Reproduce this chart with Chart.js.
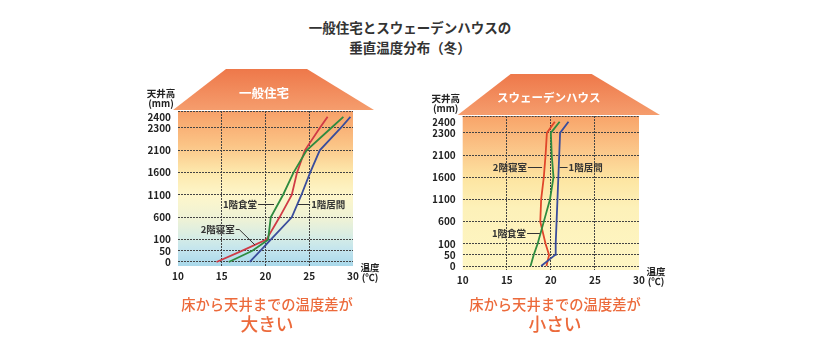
<!DOCTYPE html>
<html lang="ja">
<head>
<meta charset="utf-8">
<script src="https://cdn.jsdelivr.net/npm/chart.js@4/dist/chart.umd.min.js"></script>
<style>
  html, body { margin: 0; padding: 0; background: #fff; }
  #page { position: relative; width: 820px; height: 351px; overflow: hidden; font-family: "Noto Sans CJK JP", sans-serif; }
  .title { position: absolute; left: 0; width: 820px; text-align: center; color: #333; font-size: 13.5px; font-weight: bold; line-height: 1; }
  .box { position: absolute; }
  .cap { position: absolute; width: 260px; text-align: center; color: #ec6a3b; font-weight: 500; line-height: 1; }
</style>
</head>
<body>
<div id="page">
  <div class="title" style="top:21px">一般住宅とスウェーデンハウスの</div>
  <div class="title" style="top:41px">垂直温度分布（冬）</div>
  <div class="box" style="left:120px;top:55px"><canvas id="general" width="290" height="250"></canvas></div>
  <div class="box" style="left:410px;top:60px"><canvas id="sweden" width="290" height="250"></canvas></div>
  <div class="cap" style="left:137px;top:297px;font-size:14.3px">床から天井までの温度差が</div>
  <div class="cap" style="left:137px;top:315px;font-size:17.7px">大きい</div>
  <div class="cap" style="left:425px;top:297px;font-size:14.3px">床から天井までの温度差が</div>
  <div class="cap" style="left:425px;top:315px;font-size:17.7px">小さい</div>
</div>
<script>
// 天井高 (mm) と温度 (℃)
const heights = [0, 50, 100, 600, 1100, 1600, 2100, 2300, 2400];
const tempTicks = [10, 15, 20, 25, 30];

// 一般住宅
const generalLiving  = [18.2, 19.4, 20.6, 23.0, 24.1, 25.1, 26.2, 28.6, 29.7]; // 1階居間
const generalDining  = [15.8, 18.5, 20.3, 20.6, 22.0, 23.2, 24.7, 27.5, 28.9]; // 1階食堂
const generalBedroom = [14.4, 17.3, 20.1, 21.6, 23.0, 23.6, 24.5, 26.2, 27.1]; // 2階寝室

// スウェーデンハウス
const swedenLiving  = [18.9, 20.5, 20.55, 20.65, 20.75, 20.85, 20.95, 21.05, 22.0];
const swedenDining  = [17.7, 18.05, 18.5, 19.2, 19.9, 20.3, 20.1, 20.0, 21.0];
const swedenBedroom = [19.5, 19.8, 19.4, 18.8, 18.9, 19.2, 19.4, 19.55, 20.45];

// 縦軸は等間隔ではない (0-50-100 と 2300-2400 は半目盛り)
const levelSteps = [0, 0.5, 1, 2, 3, 4, 5, 6, 6.5];

class StepScale extends Chart.LinearScale {
  static id = 'step';
  toLevel(v) {
    let i = 1;
    while (i < heights.length - 1 && v > heights[i]) i++;
    const h0 = heights[i - 1], h1 = heights[i], p0 = levelSteps[i - 1], p1 = levelSteps[i];
    return p0 + (v - h0) * (p1 - p0) / (h1 - h0);
  }
  fromLevel(l) {
    let i = 1;
    while (i < levelSteps.length - 1 && l > levelSteps[i]) i++;
    const h0 = heights[i - 1], h1 = heights[i], p0 = levelSteps[i - 1], p1 = levelSteps[i];
    return h0 + (l - p0) * (h1 - h0) / (p1 - p0);
  }
  determineDataLimits() {
    super.determineDataLimits();
    this.min = this.toLevel(this.min);
    this.max = this.toLevel(this.max);
  }
  buildTicks() {
    return heights.map(v => ({ value: v }));
  }
  getPixelForValue(v) {
    return v === null ? NaN : this.getPixelForDecimal((this.toLevel(v) - this._startValue) / this._valueRange);
  }
  getValueForPixel(px) {
    return this.fromLevel(this._startValue + this.getDecimalForPixel(px) * this._valueRange);
  }
}
Chart.register(StepScale);

Chart.defaults.font.family = '"Noto Sans CJK JP", sans-serif';

const FONT = '"Noto Sans CJK JP", sans-serif';
const GRID = '#444';

// 家の形 (屋根と背景) と注記
function housePlugin(cfg) {
  return {
    id: 'house',
    beforeDraw(chart) {
      const { ctx, chartArea: a } = chart;
      ctx.save();
      const bg = ctx.createLinearGradient(0, a.top, 0, a.bottom);
      cfg.bg.forEach(([s, c]) => bg.addColorStop(s, c));
      ctx.fillStyle = bg;
      ctx.fillRect(a.left, a.top, a.right - a.left, a.bottom - a.top);

      const rTop = a.top - 42, rBot = a.top - 1;
      const roof = ctx.createLinearGradient(0, rTop, 0, rBot);
      roof.addColorStop(0, '#ee784a');
      roof.addColorStop(1, '#f59d6d');
      ctx.fillStyle = roof;
      ctx.beginPath();
      ctx.moveTo(a.left - 5, rBot);
      ctx.lineTo(a.left + 48, rTop);
      ctx.lineTo(a.left + 129, rTop);
      ctx.lineTo(a.right + 21, rBot);
      ctx.closePath();
      ctx.fill();

      ctx.fillStyle = '#fff';
      ctx.textAlign = 'center';
      ctx.textBaseline = 'middle';
      ctx.font = 'bold ' + cfg.titleSize + 'px ' + FONT;
      ctx.fillText(cfg.title, a.left + 86, a.top - 18);

      ctx.fillStyle = '#222';
      ctx.font = 'bold 9.5px ' + FONT;
      ctx.fillText('天井高', a.left - 17, a.top - 18);
      ctx.fillText('(mm)', a.left - 17, a.top - 8);
      ctx.fillText('温度', a.right + 17, a.bottom + 1);
      ctx.fillText('(℃)', a.right + 17, a.bottom + 11);
      ctx.restore();
    },
    beforeDatasetsDraw(chart) {
      const { ctx, chartArea: a } = chart;
      ctx.save();
      ctx.strokeStyle = GRID;
      ctx.lineWidth = 1;
      ctx.setLineDash([2, 1]);
      ctx.beginPath();
      ctx.moveTo(a.left, Math.round(a.top) + 0.5);
      ctx.lineTo(a.right, Math.round(a.top) + 0.5);
      ctx.stroke();
      ctx.restore();
    },
    afterDatasetsDraw(chart) {
      const { ctx } = chart;
      const xs = chart.scales.x, ys = chart.scales.y;
      ctx.save();
      ctx.strokeStyle = '#333';
      ctx.fillStyle = '#333';
      ctx.lineWidth = 1;
      ctx.font = 'bold 9.5px ' + FONT;
      ctx.textBaseline = 'middle';
      cfg.notes.forEach(n => {
        const y = Math.round(ys.getPixelForValue(n.y)) + 0.5;
        const x0 = xs.getPixelForValue(n.from), x1 = xs.getPixelForValue(n.to);
        ctx.beginPath();
        ctx.moveTo(x0, y);
        ctx.lineTo(x1, y);
        if (n.bend) {
          ctx.lineTo(xs.getPixelForValue(n.bend[0]), ys.getPixelForValue(n.bend[1]));
        }
        ctx.stroke();
        if (n.side === 'left') {
          ctx.textAlign = 'right';
          ctx.fillText(n.text, x0 - 1, y);
        } else {
          ctx.textAlign = 'left';
          ctx.fillText(n.text, x1 + 1, y);
        }
      });
      ctx.restore();
    }
  };
}

function series(temps, color) {
  return {
    data: heights.map((h, i) => ({ x: temps[i], y: h })),
    borderColor: color,
    borderWidth: 1.8,
    pointRadius: 0,
    tension: 0,
    fill: false
  };
}

function makeChart(id, sets, area, cfg) {
  const W = 290, H = 250, yW = 30, xH = 20;
  new Chart(document.getElementById(id), {
    type: 'line',
    data: { datasets: sets },
    options: {
      responsive: false,
      animation: false,
      events: [],
      layout: {
        padding: { left: area.left - yW, right: W - area.right, top: area.top, bottom: H - area.bottom - xH }
      },
      plugins: { legend: { display: false }, tooltip: { enabled: false } },
      scales: {
        x: {
          type: 'linear',
          min: tempTicks[0],
          max: tempTicks[tempTicks.length - 1],
          afterFit: s => { s.height = xH; },
          afterBuildTicks: s => { s.ticks = tempTicks.map(v => ({ value: v })); },
          ticks: { autoSkip: false, maxRotation: 0, padding: 4, color: '#222', font: { size: 10, weight: 'bold' }, callback: v => String(v) },
          grid: {
            drawTicks: false,
            lineWidth: 1,
            color: c => (c.tick && (c.tick.value === 10 || c.tick.value === 30)) ? 'rgba(0,0,0,0)' : GRID
          },
          border: { display: false, dash: [2, 1] }
        },
        y: {
          type: 'step',
          position: 'left',
          min: -18,
          max: 2452,
          afterFit: s => { s.width = yW; },
          ticks: { autoSkip: false, padding: 7, color: '#222', font: { size: 10, weight: 'bold' }, callback: v => String(v) },
          grid: {
            drawTicks: false,
            lineWidth: 1,
            color: c => (c.tick && c.tick.value === 2400) ? 'rgba(0,0,0,0)' : GRID
          },
          border: { display: false, dash: [2, 1] }
        }
      }
    },
    plugins: [housePlugin(cfg)]
  });
}

makeChart('general', [
  series(generalLiving, '#3a4d9c'),
  series(generalDining, '#2e8b3f'),
  series(generalBedroom, '#d03a45')
], { left: 58, right: 233, top: 56, bottom: 211 }, {
  title: '一般住宅',
  titleSize: 12.5,
  bg: [[0, '#f7a068'], [0.22, '#fbc486'], [0.4, '#fde9ad'], [0.55, '#fdf6cb'], [0.7, '#eef2d6'], [0.82, '#d5ece6'], [0.9, '#c2e4ee'], [1, '#a9d8ea']],
  notes: [
    { text: '1階食堂', y: 890, from: 19.15, to: 20.97, side: 'left' },
    { text: '1階居間', y: 890, from: 23.7, to: 25.1, side: 'right' },
    { text: '2階寝室', y: 338, from: 16.6, to: 17.0, bend: [18.8, 76], side: 'left' }
  ]
});

makeChart('sweden', [
  series(swedenLiving, '#3a4d9c'),
  series(swedenDining, '#2e8b3f'),
  series(swedenBedroom, '#e0462a')
], { left: 52.7, right: 229, top: 56, bottom: 210 }, {
  title: 'スウェーデンハウス',
  titleSize: 11.5,
  bg: [[0, '#f8a469'], [0.22, '#fbc689'], [0.42, '#fde6a3'], [0.6, '#fdf1b9'], [1, '#fef6c4']],
  notes: [
    { text: '2階寝室', y: 1830, from: 17.4, to: 19.0, side: 'left' },
    { text: '1階居間', y: 1830, from: 21.0, to: 21.9, side: 'right' },
    { text: '1階食堂', y: 338, from: 17.3, to: 18.75, side: 'left' }
  ]
});
</script>
</body>
</html>
